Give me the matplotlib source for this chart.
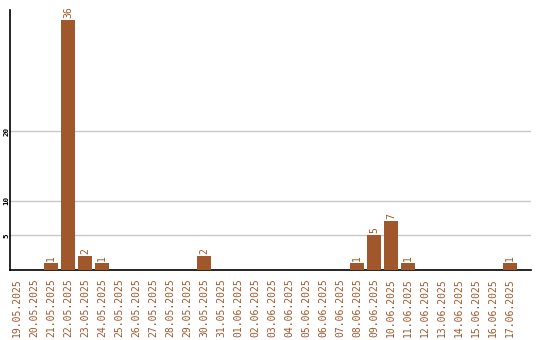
import matplotlib
matplotlib.use("Agg")
import matplotlib.pyplot as plt
import datetime as dt

start = dt.date(2025, 5, 19)
dates = [(start + dt.timedelta(days=i)).strftime("%d.%m.%Y") for i in range(30)]
counts = [0, 0, 1, 36, 2, 1, 0, 0, 0, 0, 0, 2, 0, 0, 0, 0, 0, 0, 0,
          0, 1, 5, 7, 1, 0, 0, 0, 0, 0, 1]
yticks = [5, 10, 20]

bar_color = "#a0572b"
mono = "DejaVu Sans Mono"

fig = plt.figure(figsize=(5.4, 3.4), dpi=100)
ax = fig.add_axes([10 / 540, 1 - 270 / 340, 521 / 540, 260 / 340])

x = list(range(len(dates)))
ax.bar(x, counts, width=0.82, color=bar_color, zorder=3)

for xi, v in zip(x, counts):
    if v > 0:
        ax.text(xi, v + 0.3, str(v), rotation=90, ha="center", va="bottom",
                color=bar_color, fontsize=7, family=mono, zorder=4)

ax.set_xlim(-0.41, 30.24)
ax.set_ylim(0, 37.5)

ax.set_xticks(x)
ax.set_xticklabels(dates, rotation=90, color=bar_color, fontsize=7, family=mono)
ax.set_yticks(yticks)
ax.set_yticklabels([str(t) for t in yticks], rotation=90, fontsize=5.4,
                   family=mono, fontweight="bold", va="center")
ax.tick_params(axis="both", length=0)
ax.tick_params(axis="x", pad=6)
ax.tick_params(axis="y", pad=0.6)

ax.yaxis.grid(True, color="#c8c8c8", linewidth=1, zorder=0)
for side in ("top", "right"):
    ax.spines[side].set_visible(False)
ax.spines["left"].set_linewidth(1.2)
ax.spines["bottom"].set_linewidth(1.2)

fig.savefig("out.png", dpi=100)
